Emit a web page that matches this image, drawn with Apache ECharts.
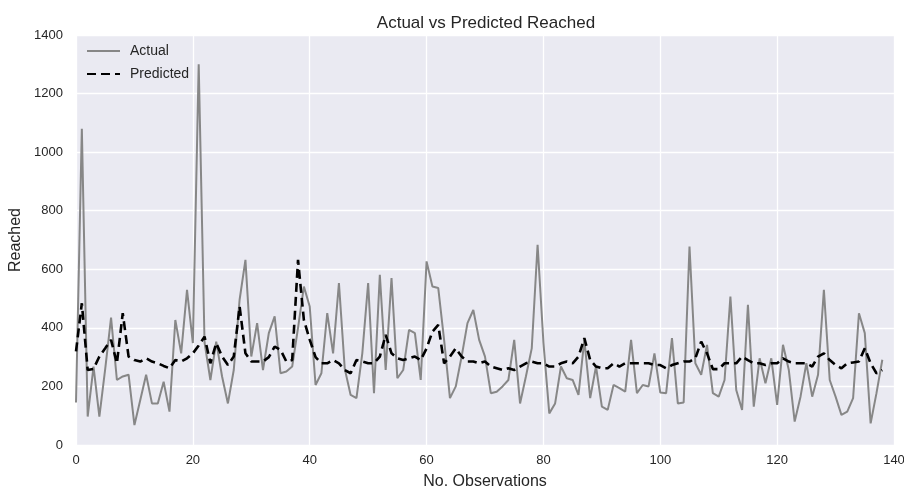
<!DOCTYPE html>
<html>
<head>
<meta charset="utf-8">
<script src="https://cdn.jsdelivr.net/npm/echarts@6/dist/echarts.min.js"></script>
<style>
  html, body { margin: 0; padding: 0; background: #fff; }
  #chart { width: 904px; height: 489px; }
</style>
</head>
<body>
<div id="chart"></div>
<script>
const actual = [
  145, 1080, 97, 268, 97, 260, 435, 222, 234, 240,
  68, 154, 240, 142, 142, 216, 114, 427, 313, 530,
  348, 1300, 350, 222, 353, 234, 142, 256, 496, 632,
  302, 416, 256, 382, 439, 245, 251, 268, 400, 541,
  473, 205, 245, 450, 313, 553, 260, 171, 160, 313,
  553, 177, 581, 256, 570, 228, 256, 393, 382, 222,
  627, 541, 536, 359, 160, 200, 302, 416, 461, 359,
  302, 177, 182, 200, 222, 359, 142, 234, 330, 684,
  350, 108, 142, 268, 228, 222, 171, 359, 160, 268,
  131, 120, 205, 194, 182, 359, 177, 205, 200, 313,
  179, 177, 365, 142, 145, 678, 279, 240, 342, 177,
  165, 222, 507, 188, 120, 479, 131, 296, 211, 296,
  137, 342, 256, 80, 165, 279, 165, 240, 530, 222,
  165, 103, 114, 160, 450, 382, 74, 177, 291
]
const predicted = [
  320, 484, 256, 260, 302, 330, 359, 279, 450, 302,
  290, 285, 296, 285, 279, 270, 262, 290, 285, 296,
  313, 340, 370, 279, 348, 302, 273, 302, 473, 313,
  285, 285, 285, 300, 336, 325, 285, 290, 632, 427,
  360, 300, 279, 279, 290, 279, 256, 245, 290, 285,
  279, 279, 302, 376, 313, 296, 290, 296, 302, 290,
  330, 387, 410, 279, 302, 330, 302, 285, 285, 279,
  285, 268, 262, 256, 262, 256, 268, 279, 285, 279,
  279, 268, 268, 279, 285, 279, 302, 365, 290, 268,
  262, 262, 279, 268, 279, 279, 279, 279, 279, 273,
  273, 262, 273, 279, 285, 285, 296, 353, 313, 259,
  259, 279, 279, 279, 302, 290, 279, 279, 273, 279,
  279, 296, 285, 279, 279, 279, 268, 302, 313, 290,
  273, 262, 279, 282, 285, 330, 279, 245, 256
]

const textColor = '#262626'
const fontFamily = '"Liberation Sans", Arial, sans-serif'

let chart = echarts.init(document.getElementById('chart'))
chart.setOption({
  animation: false,
  textStyle: { fontFamily: fontFamily },
  title: {
    text: 'Actual vs Predicted Reached',
    left: 481,
    top: 10,
    textAlign: 'center',
    textStyle: { fontSize: 17, fontWeight: 'normal', color: textColor, fontFamily: fontFamily }
  },
  legend: {
    orient: 'vertical',
    left: 81,
    top: 39,
    itemWidth: 33,
    itemHeight: 12,
    itemGap: 9,
    itemStyle: { opacity: 0 },
    textStyle: { fontSize: 14, color: textColor, fontFamily: fontFamily, padding: [0, 0, 0, 5] },
    data: ['Actual', 'Predicted']
  },
  grid: {
    left: 76,
    right: 10,
    top: 35,
    bottom: 44,
    outerBoundsMode: 'none',
    containLabel: false,
    show: true,
    backgroundColor: '#EAEAF2',
    borderWidth: 0
  },
  xAxis: {
    type: 'value',
    min: 0,
    max: 140,
    interval: 20,
    name: 'No. Observations',
    nameLocation: 'middle',
    nameGap: 29,
    nameTextStyle: { fontSize: 16, color: textColor },
    axisLine: { show: false },
    axisTick: { show: false },
    axisLabel: { fontSize: 13, color: textColor, margin: 9 },
    splitLine: { lineStyle: { color: '#ffffff', width: 1.3 } }
  },
  yAxis: {
    type: 'value',
    min: 0,
    max: 1400,
    interval: 200,
    name: 'Reached',
    nameLocation: 'middle',
    nameGap: 52,
    nameTextStyle: { fontSize: 16, color: textColor },
    axisLine: { show: false },
    axisTick: { show: false },
    axisLabel: { fontSize: 13, color: textColor, margin: 13, formatter: v => String(v) },
    splitLine: { lineStyle: { color: '#ffffff', width: 1.3 } }
  },
  series: [
    {
      name: 'Actual',
      type: 'line',
      symbol: 'none',
      data: actual.map((v, i) => [i, v]),
      lineStyle: { color: '#878787', width: 2 },
      itemStyle: { color: '#878787' },
      z: 2
    },
    {
      name: 'Predicted',
      type: 'line',
      symbol: 'none',
      data: predicted.map((v, i) => [i, v]),
      lineStyle: { color: '#000000', width: 2.6, type: [9, 5] },
      itemStyle: { color: '#000000' },
      z: 3
    }
  ]
})
</script>
</body>
</html>
